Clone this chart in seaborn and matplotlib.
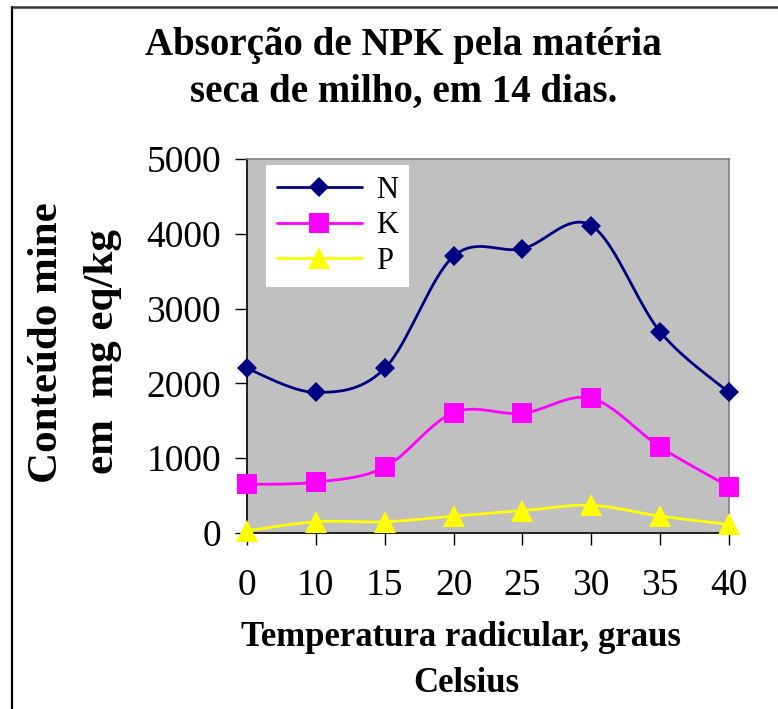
import numpy as np
import pandas as pd
import matplotlib
matplotlib.use("Agg")
import matplotlib.pyplot as plt
from matplotlib.lines import Line2D
import seaborn as sns

# ---- data ----
temps = ["0", "10", "15", "20", "25", "30", "35", "40"]
N_vals = [2200, 1880, 2200, 3700, 3800, 4110, 2690, 1880]
K_vals = [650, 680, 880, 1610, 1600, 1800, 1150, 620]
P_vals = [30, 150, 150, 225, 300, 370, 225, 115]
yticks = [0, 1000, 2000, 3000, 4000, 5000]

series = [("N", N_vals, "#000080", "D", 10.5), ("K", K_vals, "#FF00FF", "s", 15), ("P", P_vals, "#FFFF00", "^", 16)]

sns.set_theme(style="white")
plt.rcParams["font.family"] = ["Liberation Serif", "DejaVu Serif"]
plt.rcParams["text.color"] = "black"
plt.rcParams["xtick.color"] = "black"
plt.rcParams["ytick.color"] = "black"

W, H = 778, 709
fig = plt.figure(figsize=(W / 100, H / 100), dpi=100)
L, R, T, B = 247, 729, 159, 533
ax = fig.add_axes([L / W, 1 - B / H, (R - L) / W, (B - T) / H])
ax.set_facecolor("#C0C0C0")


def smooth(y, steps=20):
    # Catmull-Rom style smoothing (like Excel's smoothed line), rendering only
    x = np.arange(len(y), dtype=float)
    y = np.asarray(y, dtype=float)
    px = np.concatenate([[x[0]], x, [x[-1]]])
    py = np.concatenate([[y[0]], y, [y[-1]]])
    xs, ys = [], []
    for i in range(1, len(px) - 2):
        p0, p1, p2, p3 = (px[i - 1], py[i - 1]), (px[i], py[i]), (px[i + 1], py[i + 1]), (px[i + 2], py[i + 2])
        c1 = (p1[0] + (p2[0] - p0[0]) / 6, p1[1] + (p2[1] - p0[1]) / 6)
        c2 = (p2[0] - (p3[0] - p1[0]) / 6, p2[1] - (p3[1] - p1[1]) / 6)
        t = np.linspace(0, 1, steps, endpoint=(i == len(px) - 3))
        bx = (1 - t) ** 3 * p1[0] + 3 * (1 - t) ** 2 * t * c1[0] + 3 * (1 - t) * t ** 2 * c2[0] + t ** 3 * p2[0]
        by = (1 - t) ** 3 * p1[1] + 3 * (1 - t) ** 2 * t * c1[1] + 3 * (1 - t) * t ** 2 * c2[1] + t ** 3 * p2[1]
        xs.extend(bx)
        ys.extend(by)
    return np.array(xs), np.array(ys)


handles = []
for name, vals, color, marker, ms in series:
    sx, sy = smooth(vals)
    sns.lineplot(x=sx, y=sy, ax=ax, color=color, lw=2.0, sort=False, estimator=None, clip_on=False, zorder=3)
    df = pd.DataFrame({"x": np.arange(len(vals)), "y": vals})
    ax.plot(df["x"], df["y"], linestyle="none", marker=marker, ms=ms, color=color,
            markeredgewidth=0, clip_on=False, zorder=4)
    handles.append(Line2D([0], [0], color=color, lw=2.0, marker=marker, ms=ms, markeredgewidth=0, label=name))

ax.set_xlim(0, len(temps) - 1)
ax.set_ylim(0, 5000)
ax.set_xticks(range(len(temps)))
ax.set_xticklabels(temps)
ax.set_yticks(yticks)
ax.set_yticklabels([str(v) for v in yticks])
ax.tick_params(axis="both", which="both", direction="out", length=8.6, width=1, color="black",
               labelsize=27, pad=10, left=True, bottom=True, labelcolor="black")
ax.tick_params(axis="x", pad=17)
for lab in ax.get_xticklabels() + ax.get_yticklabels():
    lab.set_fontfamily(["Liberation Serif"])
ax.set_xlabel("")
ax.set_ylabel("")
for s in ["left", "bottom"]:
    ax.spines[s].set_color("black")
    ax.spines[s].set_linewidth(1.2)
for s in ["top", "right"]:
    ax.spines[s].set_color("#808080")
    ax.spines[s].set_linewidth(1.2)

leg = ax.legend(handles=handles, loc="upper left", bbox_to_anchor=((266 - L) / (R - L), 1 - (165 - T) / (B - T)),
                frameon=True, facecolor="white", edgecolor="none", framealpha=1, fancybox=False,
                prop={"family": "Liberation Serif", "size": 22}, handlelength=2.8, labelspacing=0.22,
                borderpad=0.35, handletextpad=0.45, borderaxespad=0)
leg.get_frame().set_linewidth(0)

# titles and axis labels
fig.text(403 / W, 1 - 45 / H, "Absorção de NPK pela matéria", ha="center", va="center",
         fontsize=28, fontweight="bold")
fig.text(404 / W, 1 - 92 / H, "seca de milho, em 14 dias.", ha="center", va="center",
         fontsize=28, fontweight="bold")
fig.text(461 / W, 1 - 637 / H, "Temperatura radicular, graus", ha="center", va="center",
         fontsize=25, fontweight="bold")
fig.text(466 / W, 1 - 683 / H, "Celsius", ha="center", va="center",
         fontsize=25, fontweight="bold")
fig.text(47 / W, 1 - 343 / H, "Conteúdo mine", ha="center", va="center", rotation=90,
         fontsize=31, fontweight="bold")
fig.text(103 / W, 1 - 352 / H, "em  mg eq/kg", ha="center", va="center", rotation=90,
         fontsize=31, fontweight="bold")

# outer frame (top and left edges)
fig.add_artist(Line2D([11.5 / W, 1.0], [1 - 6.5 / H, 1 - 6.5 / H], transform=fig.transFigure, color="#333333", lw=1.8))
fig.add_artist(Line2D([11.5 / W, 11.5 / W], [0, 1 - 6.5 / H], transform=fig.transFigure, color="black", lw=1.6))

fig.savefig("out.png", dpi=100)
